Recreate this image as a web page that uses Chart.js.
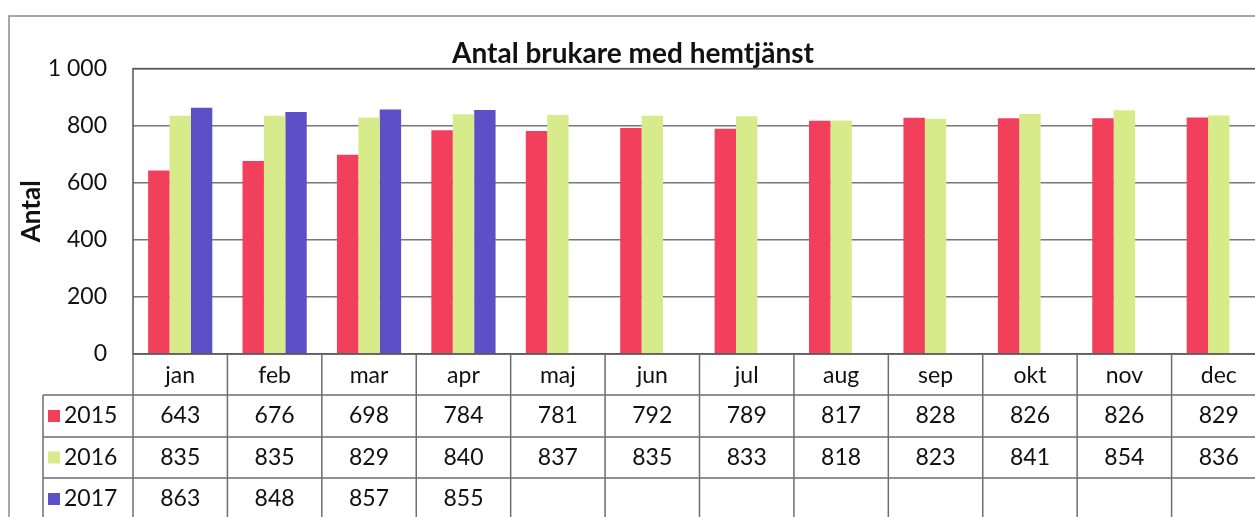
<!DOCTYPE html>
<html>
<head>
<meta charset="utf-8">
<script src="https://cdn.jsdelivr.net/npm/chart.js@4"></script>
<style>
  html, body { margin: 0; padding: 0; background: #fff; overflow: hidden; }
  #wrap { width: 1255px; height: 517px; overflow: hidden; }
</style>
</head>
<body>
<div id="wrap"><canvas id="chart" width="1270" height="517"></canvas></div>
<script>
// data
const months = ['jan', 'feb', 'mar', 'apr', 'maj', 'jun', 'jul', 'aug', 'sep', 'okt', 'nov', 'dec'];
const years = ['2015', '2016', '2017'];
const values2015 = [643, 676, 698, 784, 781, 792, 789, 817, 828, 826, 826, 829];
const values2016 = [835, 835, 829, 840, 837, 835, 833, 818, 823, 841, 854, 836];
const values2017 = [863, 848, 857, 855, null, null, null, null, null, null, null, null];
const yTicks = [0, 200, 400, 600, 800, 1000];

const colors = ['#F2405C', '#D7EB8B', '#5B50C5'];
const font = 'Lato, "Liberation Sans", sans-serif';

// frame, plot border and the data table under the plot
const tablePlugin = {
  id: 'dataTable',
  afterDraw(chart) {
    const ctx = chart.ctx;
    const area = chart.chartArea;
    const x = chart.scales.x;
    const rows = [area.bottom, 395, 437, 478, 520];
    const legendLeft = 43;
    const series = [values2015, values2016, values2017];
    const step = (area.right - area.left) / months.length;

    ctx.save();
    // outer chart frame
    ctx.strokeStyle = '#8a8a8a';
    ctx.lineWidth = 1.5;
    ctx.strokeRect(9, 16, chart.width - 12, chart.height);

    // plot area border
    ctx.strokeStyle = '#555';
    ctx.lineWidth = 1.5;
    ctx.strokeRect(area.left, area.top, area.right - area.left, area.bottom - area.top);

    // table grid
    ctx.strokeStyle = '#6e6e6e';
    ctx.lineWidth = 1.5;
    ctx.beginPath();
    for (let i = 0; i <= months.length; i++) {
      const lx = area.left + i * step;
      ctx.moveTo(lx, area.bottom);
      ctx.lineTo(lx, rows[4]);
    }
    for (let r = 1; r < rows.length; r++) {
      ctx.moveTo(legendLeft, rows[r]);
      ctx.lineTo(area.right, rows[r]);
    }
    ctx.moveTo(legendLeft, rows[1]);
    ctx.lineTo(legendLeft, rows[4]);
    ctx.stroke();

    ctx.fillStyle = '#111';
    ctx.font = '23px ' + font;
    ctx.textAlign = 'center';
    ctx.textBaseline = 'middle';
    months.forEach((m, i) => {
      ctx.fillText(m, x.getPixelForValue(i), (rows[0] + rows[1]) / 2 + 1);
    });

    series.forEach((vals, r) => {
      const cy = (rows[r + 1] + rows[r + 2]) / 2;
      // legend key
      ctx.fillStyle = colors[r];
      ctx.fillRect(48, cy - 6, 12, 12);
      ctx.fillStyle = '#111';
      ctx.textAlign = 'left';
      ctx.fillText(years[r], 64, cy);
      ctx.textAlign = 'center';
      vals.forEach((v, i) => {
        if (v !== null) ctx.fillText(String(v), x.getPixelForValue(i), cy);
      });
    });
    ctx.restore();
  }
};

new Chart(document.getElementById('chart'), {
  type: 'bar',
  data: {
    labels: months,
    datasets: [
      { label: years[0], data: values2015, backgroundColor: colors[0] },
      { label: years[1], data: values2016, backgroundColor: colors[1] },
      { label: years[2], data: values2017, backgroundColor: colors[2] }
    ]
  },
  options: {
    responsive: false,
    animation: false,
    layout: { padding: { left: 0, right: 4, top: 0, bottom: 163 } },
    datasets: { bar: { categoryPercentage: 0.68, barPercentage: 1 } },
    plugins: {
      legend: { display: false },
      tooltip: { enabled: false },
      title: {
        display: true,
        text: 'Antal brukare med hemtjänst',
        color: '#111',
        font: { family: font, size: 28, weight: 'bold' },
        padding: { top: 37, bottom: -2 }
      }
    },
    scales: {
      x: { display: false },
      y: {
        min: 0,
        max: 1000,
        afterFit(scale) { scale.width = 133; },
        afterBuildTicks(scale) { scale.ticks = yTicks.map(v => ({ value: v })); },
        grid: { color: '#777', lineWidth: 1.5, drawTicks: false },
        border: { display: false },
        ticks: {
          color: '#111',
          padding: 26,
          font: { family: font, size: 23 },
          callback: v => v >= 1000 ? Math.floor(v / 1000) + ' ' + String(v % 1000).padStart(3, '0') : String(v)
        },
        title: {
          display: true,
          text: 'Antal',
          color: '#111',
          font: { family: font, size: 26, weight: 'bold' },
          padding: { top: 16, bottom: 0 }
        }
      }
    }
  },
  plugins: [tablePlugin]
});
</script>
</body>
</html>
